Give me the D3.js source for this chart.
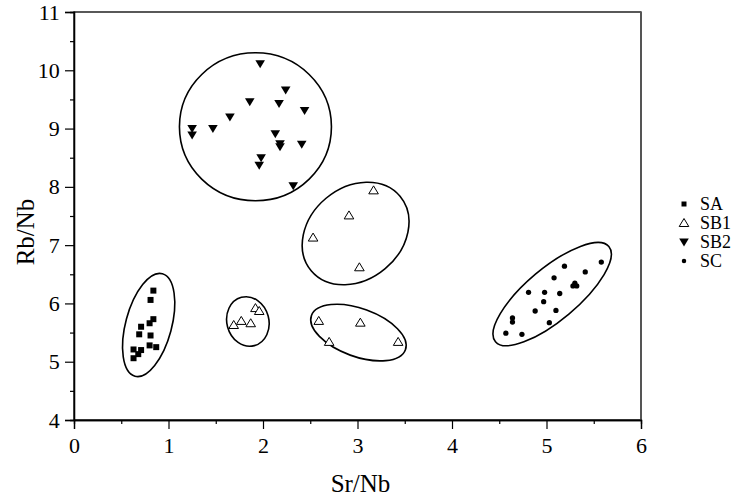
<!DOCTYPE html>
<html>
<head>
<meta charset="utf-8">
<script src="https://cdn.jsdelivr.net/npm/d3@7"></script>
<style>
  body { margin: 0; background: #fff; }
  svg, svg text { font-family: "Liberation Serif", "Times New Roman", serif; }
</style>
</head>
<body>
<div id="chart"></div>
<script>
// group names
const grupos = ["SA", "SB1", "SB2", "SC"];

// Sr/Nb , Rb/Nb
const SA = [
  [0.84, 6.22], [0.81, 6.06], [0.84, 5.73], [0.80, 5.66], [0.71, 5.60],
  [0.69, 5.47], [0.81, 5.45], [0.80, 5.28], [0.87, 5.25], [0.71, 5.20],
  [0.63, 5.21], [0.68, 5.13], [0.63, 5.06]
];
const SB1 = [
  [1.92, 5.92], [1.96, 5.87], [1.77, 5.70], [1.69, 5.63], [1.87, 5.66],
  [2.53, 7.13], [2.91, 7.51], [3.17, 7.94], [3.02, 6.62],
  [2.59, 5.70], [3.03, 5.67], [2.70, 5.34], [3.43, 5.34]
];
const SB2 = [
  [1.97, 10.11], [2.24, 9.66], [1.86, 9.46], [2.17, 9.43], [2.44, 9.31],
  [1.65, 9.20], [1.47, 9.00], [1.25, 9.00], [1.25, 8.89], [2.13, 8.91],
  [2.18, 8.74], [2.18, 8.69], [2.41, 8.73], [1.98, 8.50], [1.96, 8.37],
  [2.32, 8.02]
];
const SC = [
  [5.58, 6.71], [5.19, 6.64], [5.41, 6.54], [5.08, 6.44], [5.30, 6.35],
  [5.28, 6.30], [5.32, 6.30], [4.81, 6.19], [4.98, 6.19], [5.14, 6.17],
  [4.97, 6.03], [4.88, 5.87], [5.10, 5.88], [4.64, 5.75], [4.64, 5.68],
  [5.03, 5.67], [4.57, 5.49], [4.74, 5.47]
];

// grouping ellipses: centre in data units
const elipCentros = [[0.79, 5.63], [1.84, 5.69], [2.98, 7.20], [3.01, 5.50], [1.92, 9.03], [5.06, 6.16]];

const xTicks = [0, 1, 2, 3, 4, 5, 6];
const yTicks = [4, 5, 6, 7, 8, 9, 10, 11];

const width = 738, height = 502;
const margin = { top: 12, right: 97, bottom: 82, left: 74 };

const svg = d3.select("#chart").append("svg")
  .attr("width", width)
  .attr("height", height);

const x = d3.scaleLinear().domain([0, 6]).range([margin.left, width - margin.right]);
const y = d3.scaleLinear().domain([4, 11]).range([height - margin.bottom, margin.top]);

// frame
svg.append("rect")
  .attr("x", x(0)).attr("y", y(11))
  .attr("width", x(6) - x(0)).attr("height", y(4) - y(11))
  .attr("fill", "none").attr("stroke", "#000").attr("stroke-width", 1.3);
svg.append("line")
  .attr("x1", x(6)).attr("x2", x(6)).attr("y1", y(11)).attr("y2", y(4))
  .attr("stroke", "#555").attr("stroke-width", 2);

// axes (major + minor)
const xAxis = svg.append("g").attr("transform", `translate(0,${y(4)})`)
  .call(d3.axisBottom(x).tickValues(xTicks).tickSize(9).tickFormat(d3.format("d")));
svg.append("g").attr("transform", `translate(0,${y(4)})`)
  .call(d3.axisBottom(x).tickValues(d3.range(0.5, 6, 1)).tickSize(4).tickFormat(""));
const yAxis = svg.append("g").attr("transform", `translate(${x(0)},0)`)
  .call(d3.axisLeft(y).tickValues(yTicks).tickSize(9).tickFormat(d3.format("d")));
svg.append("g").attr("transform", `translate(${x(0)},0)`)
  .call(d3.axisLeft(y).tickValues(d3.range(4.5, 11, 1)).tickSize(4).tickFormat(""));

svg.selectAll(".domain").attr("stroke", "#000").attr("stroke-width", 1.3);
svg.selectAll(".tick line").attr("stroke", "#000").attr("stroke-width", 1.2);
svg.selectAll(".tick text")
  .style("font-family", "'Liberation Serif', serif")
  .style("font-size", "22px")
  .attr("fill", "#000");
xAxis.selectAll(".tick text").attr("dy", "0.95em");
yAxis.selectAll(".tick text").attr("dx", "-0.1em");

// axis titles
svg.append("text")
  .attr("x", (x(0) + x(6)) / 2 + 3).attr("y", 492)
  .attr("text-anchor", "middle")
  .style("font-size", "25px")
  .text("Sr/Nb");
svg.append("text")
  .attr("transform", `translate(34,232) rotate(-90)`)
  .attr("text-anchor", "middle")
  .style("font-size", "25px")
  .text("Rb/Nb");

// ellipses (shape in px)
const elipForma = [
  { rx: 53, ry: 23, rot: -75 },
  { rx: 21, ry: 25, rot: -15 },
  { rx: 58, ry: 46, rot: -40 },
  { rx: 50, ry: 24, rot: 20 },
  { rx: 76, ry: 74, rot: 0 },
  { rx: 74, ry: 26, rot: -40 }
];
svg.selectAll("ellipse.grp")
  .data(elipCentros)
  .enter().append("ellipse")
  .attr("class", "grp")
  .attr("transform", (d, i) => `translate(${x(d[0])},${y(d[1])}) rotate(${elipForma[i].rot})`)
  .attr("rx", (d, i) => elipForma[i].rx)
  .attr("ry", (d, i) => elipForma[i].ry)
  .attr("fill", "none")
  .attr("stroke", "#000")
  .attr("stroke-width", 1.6);

// symbols
const triUp = "M0,-4.5L4.8,3.5L-4.8,3.5Z";
const triDown = "M0,4.5L4.8,-3.5L-4.8,-3.5Z";

function dibujar(g, datos, tipo) {
  const sel = g.selectAll("path.p").data(datos).enter().append("path")
    .attr("transform", d => `translate(${x(d[0])},${y(d[1])})`);
  if (tipo === "SA") sel.attr("d", "M-3,-3H3V3H-3Z").attr("fill", "#000");
  if (tipo === "SB1") sel.attr("d", triUp).attr("fill", "#fff").attr("stroke", "#000").attr("stroke-width", 1);
  if (tipo === "SB2") sel.attr("d", triDown).attr("fill", "#000");
  if (tipo === "SC") sel.attr("d", d3.symbol(d3.symbolCircle, 22)()).attr("fill", "#000");
}
const series = { SA: SA, SB1: SB1, SB2: SB2, SC: SC };
grupos.forEach(k => dibujar(svg.append("g"), series[k], k));

// legend
const leg = svg.append("g");
grupos.forEach((k, i) => {
  const yy = 204 + i * 19;
  const g = leg.append("g").attr("transform", `translate(684,${yy})`);
  if (k === "SA") g.append("path").attr("d", "M-2.5,-2.5H2.5V2.5H-2.5Z").attr("fill", "#000");
  if (k === "SB1") g.append("path").attr("d", triUp).attr("fill", "#fff").attr("stroke", "#000");
  if (k === "SB2") g.append("path").attr("d", triDown).attr("fill", "#000");
  if (k === "SC") g.append("path").attr("d", d3.symbol(d3.symbolCircle, 16)()).attr("fill", "#000");
  g.append("text").attr("x", 16).attr("dy", "0.35em").style("font-size", "18px").text(k);
});
</script>
</body>
</html>
